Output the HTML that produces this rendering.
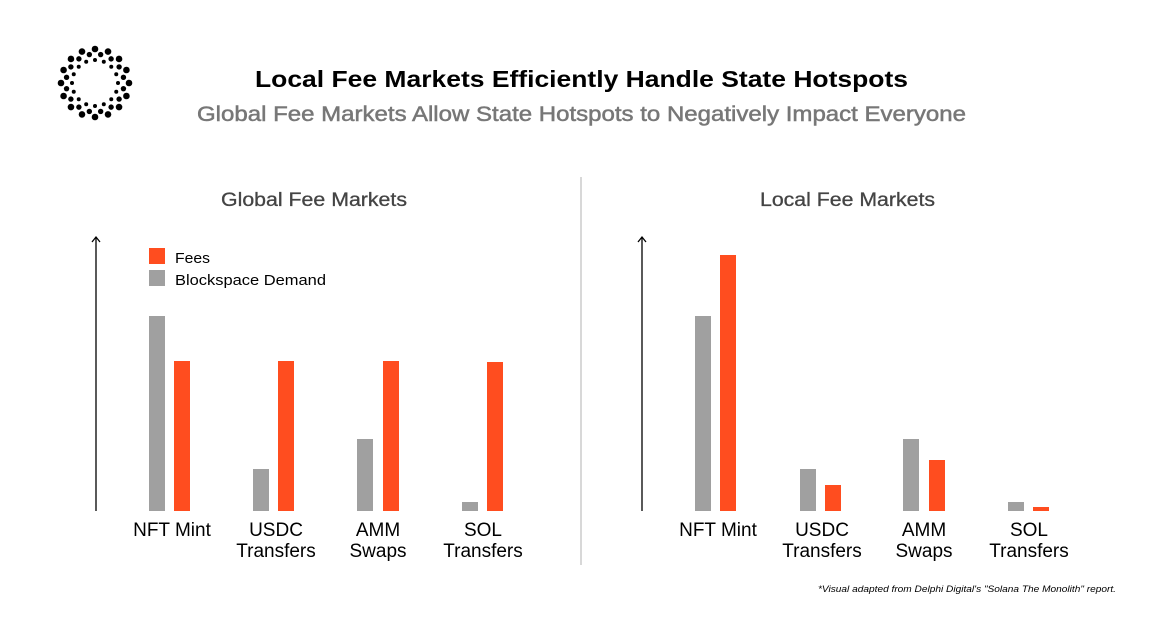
<!DOCTYPE html><html><head><style>body{margin:0;background:#fff;width:1163px;height:621px;overflow:hidden}svg{display:block}text{font-family:"Liberation Sans",sans-serif}</style></head><body>
<svg width="1163" height="621" viewBox="0 0 1163 621">
<g fill="#000" id="logo"></g>
<text x="255" y="87" font-size="23" font-weight="bold" fill="#000" textLength="653" lengthAdjust="spacingAndGlyphs">Local Fee Markets Efficiently Handle State Hotspots</text>
<text x="197" y="121" font-size="21" fill="#777" stroke="#777" stroke-width="0.5" textLength="769" lengthAdjust="spacingAndGlyphs">Global Fee Markets Allow State Hotspots to Negatively Impact Everyone</text>
<text x="221" y="206" font-size="19" fill="#444" stroke="#444" stroke-width="0.3" textLength="186" lengthAdjust="spacingAndGlyphs">Global Fee Markets</text>
<text x="760" y="206" font-size="19" fill="#444" stroke="#444" stroke-width="0.3" textLength="175" lengthAdjust="spacingAndGlyphs">Local Fee Markets</text>
<line x1="581" y1="177" x2="581" y2="565" stroke="#ccc" stroke-width="1.5"/>
<g stroke="#000" stroke-width="1.3" fill="none">
<line x1="96" y1="237" x2="96" y2="511"/><polyline points="92,242 96,237 100,242"/>
<line x1="642" y1="237" x2="642" y2="511"/><polyline points="638,242 642,237 646,242"/>
</g>
<rect x="149" y="248" width="16" height="16" fill="#ff4d1f"/><text x="175" y="263" font-size="15" textLength="35" lengthAdjust="spacingAndGlyphs">Fees</text>
<rect x="149" y="270" width="16" height="16" fill="#a0a0a0"/><text x="175" y="285" font-size="15" textLength="151" lengthAdjust="spacingAndGlyphs">Blockspace Demand</text>
<g fill="#a0a0a0">
<rect x="149" y="316" width="16" height="195"/><rect x="253" y="469" width="16" height="42"/><rect x="357" y="439" width="16" height="72"/><rect x="462" y="502" width="16" height="9"/>
<rect x="695" y="316" width="16" height="195"/><rect x="800" y="469" width="16" height="42"/><rect x="903" y="439" width="16" height="72"/><rect x="1008" y="502" width="16" height="9"/>
</g>
<g fill="#ff4d1f">
<rect x="174" y="361" width="16" height="150"/><rect x="278" y="361" width="16" height="150"/><rect x="383" y="361" width="16" height="150"/><rect x="487" y="362" width="16" height="149"/>
<rect x="720" y="255" width="16" height="256"/><rect x="825" y="485" width="16" height="26"/><rect x="929" y="460" width="16" height="51"/><rect x="1033" y="507" width="16" height="4"/>
</g>
<g font-size="19" text-anchor="middle" fill="#000">
<text x="172" y="536">NFT Mint</text>
<text x="276" y="536">USDC</text><text x="276" y="557">Transfers</text>
<text x="378" y="536">AMM</text><text x="378" y="557">Swaps</text>
<text x="483" y="536">SOL</text><text x="483" y="557">Transfers</text>
<text x="718" y="536">NFT Mint</text>
<text x="822" y="536">USDC</text><text x="822" y="557">Transfers</text>
<text x="924" y="536">AMM</text><text x="924" y="557">Swaps</text>
<text x="1029" y="536">SOL</text><text x="1029" y="557">Transfers</text>
</g>
<text x="818" y="592" font-size="9" font-style="italic" fill="#000" textLength="298" lengthAdjust="spacingAndGlyphs">*Visual adapted from Delphi Digital's "Solana The Monolith" report.</text>
</svg>
<script>
var g=document.getElementById('logo'),s='';
var cx=95,cy=83;
for(var i=0;i<16;i++){var a=i*Math.PI/8;s+='<circle cx="'+(cx+34*Math.cos(a))+'" cy="'+(cy+34*Math.sin(a))+'" r="3.3"/>';
var b=a+Math.PI/16;s+='<circle cx="'+(cx+29*Math.cos(b))+'" cy="'+(cy+29*Math.sin(b))+'" r="2.7"/>';
s+='<circle cx="'+(cx+23*Math.cos(a))+'" cy="'+(cy+23*Math.sin(a))+'" r="2"/>';}
g.innerHTML=s;
</script>
</body></html>
